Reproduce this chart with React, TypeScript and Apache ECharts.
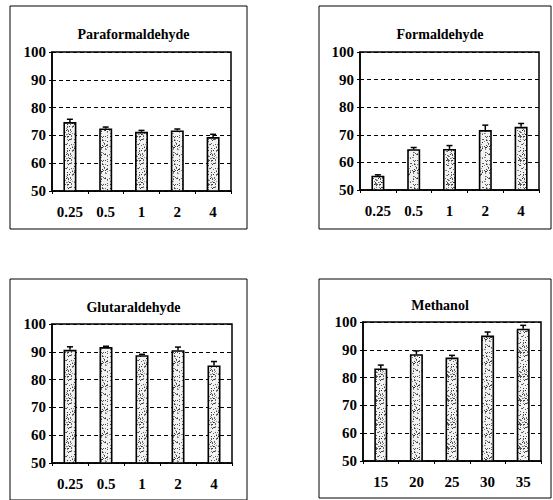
import React, { useEffect, useRef } from "react";
import * as echarts from "echarts";

// Category labels (concentration, %) for each panel
const aldehydeCats = ["0.25", "0.5", "1", "2", "4"];
const methanolCats = ["15", "20", "25", "30", "35"];

// Mean values and standard errors
const paraValues = [74.8, 72.5, 71.3, 71.8, 69.4];
const paraErr = [1.0, 0.5, 0.5, 0.5, 1.0];
const formValues = [55.2, 64.8, 64.9, 71.7, 72.9];
const formErr = [0.3, 0.6, 1.2, 1.8, 1.2];
const glutValues = [90.7, 91.7, 88.8, 90.6, 85.1];
const glutErr = [1.1, 0.3, 0.3, 1.1, 1.4];
const methValues = [83.3, 88.4, 87.2, 95.1, 97.6];
const methErr = [1.2, 1.2, 0.8, 1.3, 1.2];

const yTicks = { min: 50, max: 100, interval: 10 };

const FONT = "Liberation Serif";

// Stippled fill used inside the bars
function makeStipple(): HTMLCanvasElement {
  const c = document.createElement("canvas");
  c.width = 24;
  c.height = 24;
  const ctx = c.getContext("2d")!;
  ctx.fillStyle = "#f2f2f2";
  ctx.fillRect(0, 0, 24, 24);
  let s = 12345;
  const next = () => {
    s = (s * 1103515245 + 12345) & 0x7fffffff;
    return s / 0x7fffffff;
  };
  for (let i = 0; i < 140; i++) {
    const x = Math.floor(next() * 24);
    const y = Math.floor(next() * 24);
    const g = 40 + Math.floor(next() * 120);
    ctx.fillStyle = `rgb(${g},${g},${g})`;
    ctx.fillRect(x, y, 1, 1);
  }
  return c;
}

type Panel = {
  title: string;
  cats: string[];
  values: number[];
  err: number[];
  box: [number, number, number, number];
  grid: { left: number; top: number; width: number; height: number };
  titleY: number;
};

const panels: Panel[] = [
  {
    title: "Paraformaldehyde",
    cats: aldehydeCats,
    values: paraValues,
    err: paraErr,
    box: [10, 6, 237, 223],
    grid: { left: 52, top: 52, width: 179, height: 139 },
    titleY: 22,
  },
  {
    title: "Formaldehyde",
    cats: aldehydeCats,
    values: formValues,
    err: formErr,
    box: [319, 6, 232, 223],
    grid: { left: 360, top: 52, width: 179, height: 138 },
    titleY: 22,
  },
  {
    title: "Glutaraldehyde",
    cats: aldehydeCats,
    values: glutValues,
    err: glutErr,
    box: [10, 279, 237, 221],
    grid: { left: 52, top: 324, width: 180, height: 139 },
    titleY: 295,
  },
  {
    title: "Methanol",
    cats: methanolCats,
    values: methValues,
    err: methErr,
    box: [319, 279, 232, 219],
    grid: { left: 363, top: 322, width: 178, height: 139 },
    titleY: 293,
  },
];

export default function App() {
  const ref = useRef<HTMLDivElement>(null);

  useEffect(() => {
    if (!ref.current) return;
    const chart = echarts.init(ref.current, undefined, { renderer: "svg" });
    const stipple = makeStipple();

    const grids: any[] = [];
    const xAxes: any[] = [];
    const yAxes: any[] = [];
    const series: any[] = [];
    const titles: any[] = [];
    const graphics: any[] = [];

    panels.forEach((p, i) => {
      grids.push({
        ...p.grid,
        show: true,
        borderColor: "#000",
        borderWidth: 1.5,
        backgroundColor: "transparent",
      });
      xAxes.push({
        type: "category",
        gridIndex: i,
        data: p.cats,
        boundaryGap: true,
        axisLine: { lineStyle: { color: "#000", width: 1.5 } },
        axisTick: { show: true, length: 3, lineStyle: { color: "#000" } },
        axisLabel: {
          margin: 13,
          color: "#000",
          fontFamily: FONT,
          fontWeight: "bold",
          fontSize: 15,
        },
      });
      yAxes.push({
        type: "value",
        gridIndex: i,
        ...yTicks,
        axisLine: { show: true, lineStyle: { color: "#000", width: 1.5 } },
        axisTick: { show: true, length: 3, lineStyle: { color: "#000" } },
        splitLine: {
          show: true,
          lineStyle: { color: "#000", type: [4, 3], width: 1 },
        },
        axisLabel: {
          margin: 6,
          color: "#000",
          fontFamily: FONT,
          fontWeight: "bold",
          fontSize: 15,
        },
      });
      series.push({
        type: "bar",
        xAxisIndex: i,
        yAxisIndex: i,
        data: p.values,
        barWidth: 13,
        itemStyle: {
          color: { image: stipple, repeat: "repeat" },
          borderColor: "#000",
          borderWidth: 1.6,
        },
        z: 3,
      });
      series.push({
        type: "custom",
        xAxisIndex: i,
        yAxisIndex: i,
        z: 4,
        data: p.cats.map((_, k) => [k, p.values[k], p.err[k]]),
        renderItem: (params: any, api: any) => {
          const base = api.coord([api.value(0), api.value(1)]);
          const top = api.coord([api.value(0), api.value(1) + api.value(2)]);
          const style = { stroke: "#000", lineWidth: 1.5 };
          return {
            type: "group",
            children: [
              {
                type: "line",
                shape: { x1: base[0], y1: base[1], x2: top[0], y2: top[1] },
                style,
              },
              {
                type: "line",
                shape: { x1: top[0] - 3, y1: top[1], x2: top[0] + 3, y2: top[1] },
                style,
              },
            ],
          };
        },
      });
      const [bx, by, bw, bh] = p.box;
      titles.push({
        text: p.title,
        left: bx + bw / 2,
        top: p.titleY,
        textAlign: "center",
        textStyle: {
          fontFamily: FONT,
          fontWeight: "bold",
          fontSize: 14,
          color: "#000",
        },
      });
      graphics.push({
        type: "rect",
        shape: { x: bx, y: by, width: bw, height: bh },
        style: { fill: "none", stroke: "#000", lineWidth: 1 },
        silent: true,
      });
    });

    chart.setOption({
      animation: false,
      backgroundColor: "#fff",
      title: titles,
      grid: grids,
      xAxis: xAxes,
      yAxis: yAxes,
      series,
      graphic: graphics,
    });

    return () => chart.dispose();
  }, []);

  return (
    <div
      ref={ref}
      style={{ position: "fixed", left: 0, top: 0, width: 553, height: 500 }}
    />
  );
}
